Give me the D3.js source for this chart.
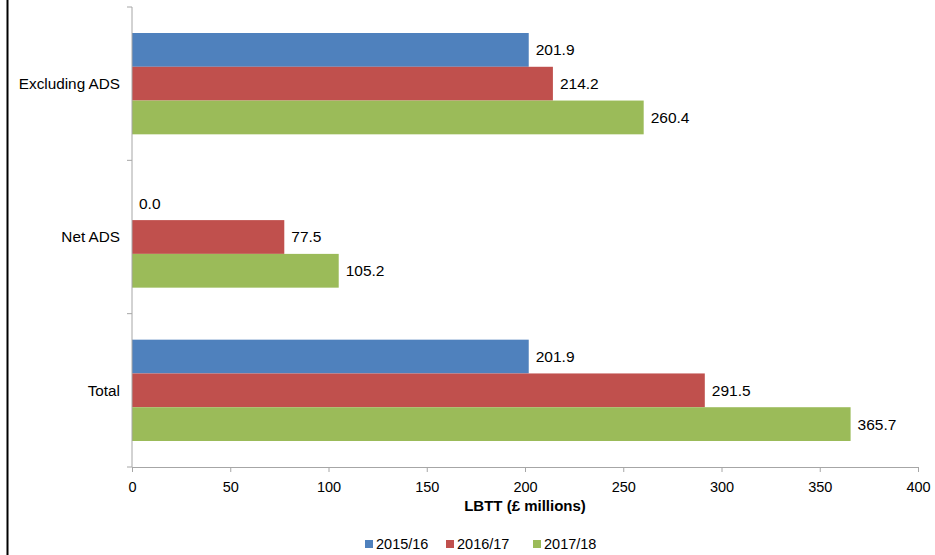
<!DOCTYPE html>
<html>
<head>
<meta charset="utf-8">
<script src="https://cdn.jsdelivr.net/npm/d3@7"></script>
<style>
  html, body { margin: 0; padding: 0; background: #fff; }
  svg { display: block; font-family: "Liberation Sans", Arial, sans-serif; }
</style>
</head>
<body>
<svg id="chart" width="935" height="555"></svg>
<script>
// LBTT revenue by component and year (£ millions)
const categories = ["Excluding ADS", "Net ADS", "Total"];
const seriesNames = ["2015/16", "2016/17", "2017/18"];
const values2015 = [201.9, 0.0, 201.9];
const values2016 = [214.2, 77.5, 291.5];
const values2017 = [260.4, 105.2, 365.7];
const xTicks = [0, 50, 100, 150, 200, 250, 300, 350, 400];
const colors = ["#4f81bd", "#c0504d", "#9bbb59"];
const axisTitle = "LBTT (£ millions)";

const seriesValues = [values2015, values2016, values2017];

const svg = d3.select("#chart");
const margin = { left: 132, right: 17, top: 7, bottom: 88 };
const W = 935, H = 555;

// Outer frame line along the left edge
svg.append("line")
  .attr("x1", 7.5).attr("x2", 7.5).attr("y1", 0).attr("y2", H)
  .attr("stroke", "#000").attr("stroke-width", 2);

const x = d3.scaleLinear().domain([0, 400]).range([margin.left, W - margin.right]);
const y = d3.scaleBand().domain(categories).range([margin.top, H - margin.bottom]).padding(0);
const ySub = d3.scaleBand().domain(seriesNames).range([0, y.bandwidth()])
  .paddingInner(0).paddingOuter(0.77);

const axisColor = "#a6a6a6";

// Bars
const groups = svg.append("g").selectAll("g")
  .data(categories)
  .join("g")
  .attr("transform", d => `translate(0,${y(d)})`);

groups.each(function(cat, ci) {
  const g = d3.select(this);
  seriesNames.forEach((s, si) => {
    const v = seriesValues[si][ci];
    g.append("rect")
      .attr("x", x(0))
      .attr("y", ySub(s))
      .attr("width", x(v) - x(0))
      .attr("height", ySub.bandwidth())
      .attr("fill", colors[si]);
    g.append("text")
      .attr("x", x(v) + 7)
      .attr("y", ySub(s) + ySub.bandwidth() / 2)
      .attr("dy", "0.35em")
      .attr("font-size", 15.5)
      .attr("fill", "#000")
      .text(v.toFixed(1));
  });
});

// X axis
const xAxis = svg.append("g")
  .attr("transform", `translate(0,${H - margin.bottom})`)
  .call(d3.axisBottom(x).tickValues(xTicks).tickSize(5).tickSizeOuter(5).tickPadding(10));
xAxis.select(".domain").attr("stroke", axisColor);
xAxis.selectAll(".tick line").attr("stroke", axisColor);
xAxis.selectAll(".tick text").attr("font-size", 14.5).attr("fill", "#000")
  .attr("font-family", "Liberation Sans, Arial, sans-serif");

// Y axis: ticks on category boundaries
const boundaries = categories.map(c => y(c)).concat([y.range()[1]]);
const yAxisG = svg.append("g");
yAxisG.append("line")
  .attr("x1", x(0)).attr("x2", x(0))
  .attr("y1", margin.top).attr("y2", H - margin.bottom)
  .attr("stroke", axisColor);
yAxisG.selectAll("line.tk")
  .data(boundaries)
  .join("line")
  .attr("class", "tk")
  .attr("x1", x(0) - 5).attr("x2", x(0))
  .attr("y1", d => d).attr("y2", d => d)
  .attr("stroke", axisColor);
yAxisG.selectAll("text")
  .data(categories)
  .join("text")
  .attr("x", x(0) - 12)
  .attr("y", d => y(d) + y.bandwidth() / 2)
  .attr("dy", "0.35em")
  .attr("text-anchor", "end")
  .attr("font-size", 15.3)
  .attr("fill", "#000")
  .text(d => d);

// Axis title
svg.append("text")
  .attr("x", (x(0) + x(400)) / 2)
  .attr("y", 511)
  .attr("text-anchor", "middle")
  .attr("font-size", 15)
  .attr("font-weight", "bold")
  .attr("fill", "#000")
  .text(axisTitle);

// Legend
const legendX = [365, 446, 533];
const legend = svg.append("g").selectAll("g")
  .data(seriesNames)
  .join("g")
  .attr("transform", (d, i) => `translate(${legendX[i]},544)`);
legend.append("rect")
  .attr("x", 0).attr("y", -4).attr("width", 8).attr("height", 8)
  .attr("fill", (d, i) => colors[i]);
legend.append("text")
  .attr("x", 11).attr("y", 0).attr("dy", "0.35em")
  .attr("font-size", 14.5).attr("fill", "#000")
  .text(d => d);
</script>
</body>
</html>
